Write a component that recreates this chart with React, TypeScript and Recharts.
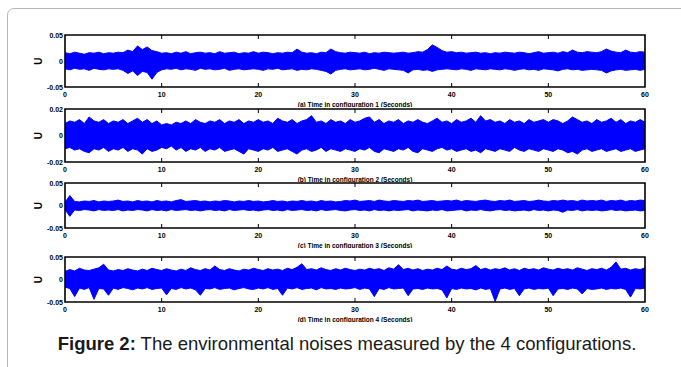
import { ComposedChart, Area, XAxis, YAxis, ReferenceArea } from "recharts";

// sampling grid of the envelope readings (seconds)
const SAMPLE_PERIOD = 0.5;
const X_TICKS = [0, 10, 20, 30, 40, 50, 60];

// configuration 1 envelope (upper / lower), read every 0.5 s
const HI_1 = [
  0.016, 0.014, 0.017, 0.015, 0.013, 0.016, 0.015, 0.017, 0.014, 0.016,
  0.015, 0.017, 0.016, 0.021, 0.018, 0.029, 0.022, 0.027, 0.02, 0.018,
  0.015, 0.016, 0.014, 0.017, 0.015, 0.018, 0.014, 0.016, 0.017, 0.015,
  0.016, 0.014, 0.018, 0.015, 0.016, 0.017, 0.014, 0.016, 0.015, 0.018,
  0.015, 0.017, 0.016, 0.014, 0.016, 0.015, 0.017, 0.016, 0.023, 0.017,
  0.015, 0.016, 0.014, 0.017, 0.016, 0.023, 0.018, 0.016, 0.015, 0.017,
  0.016, 0.015, 0.017, 0.014, 0.016, 0.015, 0.017, 0.016, 0.015, 0.016,
  0.017, 0.015, 0.016, 0.018, 0.017, 0.022, 0.031, 0.026, 0.02, 0.017,
  0.018, 0.016, 0.017, 0.015, 0.016, 0.017, 0.015, 0.016, 0.014, 0.016,
  0.015, 0.017, 0.016, 0.015, 0.017, 0.016, 0.014, 0.016, 0.018, 0.015,
  0.016, 0.017, 0.015, 0.018, 0.016, 0.021, 0.017, 0.016, 0.018, 0.017,
  0.016, 0.018, 0.023, 0.019, 0.017, 0.016, 0.021, 0.017, 0.016, 0.018,
  0.017,
];
const LO_1 = [
  -0.015, -0.017, -0.014, -0.016, -0.015, -0.018, -0.014, -0.016, -0.017, -0.015,
  -0.016, -0.015, -0.018, -0.024, -0.019, -0.028, -0.02, -0.022, -0.035, -0.022,
  -0.017, -0.015, -0.016, -0.014, -0.017, -0.015, -0.016, -0.018, -0.014, -0.016,
  -0.015, -0.017, -0.016, -0.014, -0.018, -0.016, -0.015, -0.017, -0.016, -0.015,
  -0.016, -0.018, -0.015, -0.016, -0.014, -0.017, -0.016, -0.015, -0.018, -0.016,
  -0.017, -0.015, -0.016, -0.018, -0.02, -0.025, -0.018, -0.016, -0.015, -0.017,
  -0.016, -0.015, -0.017, -0.016, -0.014, -0.016, -0.018, -0.015, -0.016, -0.017,
  -0.018, -0.023, -0.017, -0.016, -0.018, -0.017, -0.02, -0.017, -0.016, -0.015,
  -0.016, -0.017, -0.015, -0.016, -0.018, -0.015, -0.016, -0.017, -0.015, -0.016,
  -0.017, -0.015, -0.016, -0.018, -0.016, -0.015, -0.017, -0.016, -0.018, -0.015,
  -0.016, -0.017, -0.019, -0.016, -0.015, -0.017, -0.016, -0.018, -0.017, -0.016,
  -0.017, -0.018, -0.023, -0.019, -0.017, -0.016, -0.018, -0.017, -0.016, -0.018,
  -0.016,
];

// configuration 2
const HI_2 = [
  0.009, 0.011, 0.01, 0.012, 0.009, 0.014, 0.011, 0.01, 0.012, 0.009,
  0.011, 0.01, 0.012, 0.009, 0.011, 0.013, 0.01, 0.012, 0.009, 0.011,
  0.008, 0.009, 0.008, 0.01, 0.009, 0.011, 0.009, 0.012, 0.01, 0.009,
  0.011, 0.01, 0.012, 0.009, 0.011, 0.01, 0.012, 0.009, 0.011, 0.01,
  0.012, 0.01, 0.011, 0.009, 0.013, 0.011, 0.01, 0.012, 0.009, 0.011,
  0.012, 0.015, 0.01, 0.011, 0.009, 0.012, 0.01, 0.011, 0.009, 0.012,
  0.01, 0.011, 0.013, 0.014, 0.01, 0.012, 0.009, 0.011, 0.01, 0.012,
  0.009, 0.011, 0.01, 0.012, 0.01, 0.009, 0.011, 0.013, 0.01, 0.011,
  0.009, 0.012, 0.01, 0.011, 0.013, 0.01, 0.015, 0.011, 0.012, 0.01,
  0.011, 0.009, 0.012, 0.01, 0.011, 0.009, 0.012, 0.01, 0.011, 0.012,
  0.01, 0.012, 0.011, 0.009, 0.011, 0.014, 0.012, 0.01, 0.011, 0.009,
  0.012, 0.01, 0.011, 0.013, 0.01, 0.012, 0.009, 0.011, 0.01, 0.012,
  0.01,
];
const LO_2 = [
  -0.01, -0.009, -0.011, -0.01, -0.012, -0.013, -0.01, -0.011, -0.009, -0.012,
  -0.01, -0.011, -0.009, -0.012, -0.01, -0.011, -0.014, -0.01, -0.012, -0.011,
  -0.009, -0.01, -0.008, -0.011, -0.009, -0.012, -0.01, -0.011, -0.009, -0.012,
  -0.01, -0.011, -0.009, -0.012, -0.011, -0.01, -0.012, -0.014, -0.01, -0.011,
  -0.012, -0.01, -0.011, -0.009, -0.012, -0.011, -0.01, -0.012, -0.014, -0.011,
  -0.01, -0.012, -0.011, -0.009, -0.012, -0.01, -0.011, -0.012, -0.01, -0.011,
  -0.012, -0.01, -0.011, -0.009, -0.012, -0.013, -0.01, -0.011, -0.012, -0.01,
  -0.011, -0.009, -0.012, -0.013, -0.01, -0.011, -0.012, -0.01, -0.009, -0.011,
  -0.01, -0.012, -0.011, -0.01, -0.012, -0.011, -0.013, -0.01, -0.011, -0.012,
  -0.01, -0.011, -0.012, -0.009, -0.011, -0.012, -0.01, -0.011, -0.012, -0.01,
  -0.011, -0.012, -0.01, -0.011, -0.013, -0.012, -0.014, -0.011, -0.01, -0.012,
  -0.011, -0.01, -0.012, -0.011, -0.01, -0.012, -0.011, -0.01, -0.012, -0.011,
  -0.01,
];

// configuration 3
const HI_3 = [
  0.007, 0.022, 0.009, 0.008, 0.01, 0.009, 0.011, 0.008, 0.01, 0.009,
  0.01, 0.012, 0.009, 0.01, 0.008, 0.011, 0.009, 0.01, 0.008, 0.011,
  0.009, 0.01, 0.008, 0.011, 0.013, 0.009, 0.01, 0.011, 0.009, 0.01,
  0.008, 0.01, 0.009, 0.011, 0.01, 0.008, 0.01, 0.009, 0.011, 0.009,
  0.01, 0.008, 0.009, 0.011, 0.009, 0.01, 0.008, 0.01, 0.009, 0.011,
  0.009, 0.01, 0.008, 0.011, 0.009, 0.01, 0.008, 0.009, 0.011, 0.01,
  0.012, 0.009, 0.01, 0.011, 0.009, 0.012, 0.01, 0.009, 0.011, 0.01,
  0.009, 0.011, 0.01, 0.012, 0.009, 0.01, 0.011, 0.009, 0.01, 0.011,
  0.01, 0.012, 0.009, 0.011, 0.01, 0.009, 0.011, 0.012, 0.01, 0.009,
  0.011, 0.01, 0.012, 0.009, 0.01, 0.011, 0.009, 0.01, 0.012, 0.01,
  0.009, 0.011, 0.01, 0.012, 0.01, 0.011, 0.009, 0.012, 0.01, 0.011,
  0.01, 0.012, 0.009, 0.011, 0.01, 0.012, 0.009, 0.011, 0.01, 0.012,
  0.011,
];
const LO_3 = [
  -0.009, -0.024, -0.01, -0.011, -0.009, -0.01, -0.012, -0.009, -0.011, -0.01,
  -0.011, -0.009, -0.012, -0.01, -0.011, -0.009, -0.01, -0.012, -0.009, -0.011,
  -0.01, -0.012, -0.009, -0.011, -0.01, -0.009, -0.011, -0.01, -0.012, -0.01,
  -0.009, -0.011, -0.01, -0.012, -0.009, -0.011, -0.01, -0.009, -0.011, -0.01,
  -0.012, -0.01, -0.009, -0.011, -0.01, -0.012, -0.009, -0.011, -0.01, -0.009,
  -0.011, -0.01, -0.012, -0.009, -0.011, -0.01, -0.009, -0.011, -0.012, -0.01,
  -0.009, -0.011, -0.01, -0.012, -0.009, -0.011, -0.01, -0.012, -0.01, -0.011,
  -0.01, -0.009, -0.012, -0.01, -0.011, -0.012, -0.01, -0.011, -0.009, -0.012,
  -0.011, -0.01, -0.009, -0.012, -0.01, -0.011, -0.009, -0.011, -0.012, -0.01,
  -0.009, -0.011, -0.01, -0.012, -0.011, -0.01, -0.012, -0.009, -0.011, -0.01,
  -0.012, -0.01, -0.011, -0.015, -0.01, -0.011, -0.009, -0.012, -0.01, -0.011,
  -0.01, -0.012, -0.011, -0.009, -0.011, -0.01, -0.012, -0.011, -0.01, -0.012,
  -0.011,
];

// configuration 4
const HI_4 = [
  0.018, 0.022, 0.019, 0.025, 0.021, 0.02, 0.023, 0.026, 0.034, 0.021,
  0.019, 0.022, 0.02, 0.024, 0.021, 0.019, 0.023, 0.02, 0.025, 0.022,
  0.02, 0.024, 0.021, 0.019, 0.023, 0.02, 0.026, 0.022, 0.02, 0.024,
  0.021, 0.03, 0.022, 0.02, 0.024, 0.021, 0.019, 0.023, 0.021, 0.025,
  0.022, 0.02, 0.024, 0.021, 0.023, 0.02, 0.025, 0.022, 0.027, 0.035,
  0.022, 0.024, 0.021, 0.026, 0.022, 0.02, 0.024, 0.021, 0.025, 0.022,
  0.02, 0.023, 0.021, 0.025, 0.022, 0.024, 0.02, 0.026, 0.023, 0.033,
  0.022, 0.025, 0.021, 0.024, 0.02, 0.023, 0.021, 0.025, 0.022, 0.03,
  0.023, 0.021, 0.025, 0.022, 0.024, 0.031, 0.022, 0.025, 0.021, 0.024,
  0.022, 0.026, 0.021, 0.024, 0.02, 0.025, 0.022, 0.024, 0.021, 0.026,
  0.023, 0.021, 0.025, 0.022, 0.024, 0.021, 0.026, 0.023, 0.02, 0.024,
  0.022, 0.025, 0.021, 0.027, 0.039, 0.023, 0.025, 0.021, 0.024, 0.022,
  0.026,
];
const LO_4 = [
  -0.017, -0.02, -0.038, -0.019, -0.022, -0.018, -0.044, -0.02, -0.021, -0.035,
  -0.019, -0.022, -0.018, -0.02, -0.023, -0.019, -0.021, -0.018, -0.022, -0.02,
  -0.019, -0.034, -0.02, -0.022, -0.018, -0.021, -0.019, -0.023, -0.035, -0.02,
  -0.021, -0.018, -0.022, -0.02, -0.019, -0.023, -0.02, -0.018, -0.021, -0.022,
  -0.019, -0.021, -0.018, -0.022, -0.02, -0.035, -0.019, -0.021, -0.018, -0.022,
  -0.02, -0.019, -0.023, -0.018, -0.021, -0.02, -0.022, -0.019, -0.021, -0.02,
  -0.018, -0.022, -0.019, -0.021, -0.038, -0.02, -0.022, -0.018, -0.021, -0.02,
  -0.019, -0.036, -0.021, -0.02, -0.022, -0.019, -0.021, -0.02, -0.023, -0.041,
  -0.02, -0.022, -0.019, -0.021, -0.02, -0.023, -0.019, -0.022, -0.02, -0.049,
  -0.021, -0.019, -0.022, -0.02, -0.036, -0.021, -0.019, -0.022, -0.02, -0.021,
  -0.019, -0.036, -0.021, -0.02, -0.022, -0.019, -0.021, -0.032, -0.02, -0.022,
  -0.021, -0.019, -0.022, -0.02, -0.021, -0.019, -0.022, -0.039, -0.02, -0.021,
  -0.019,
];

const Y_LIMITS = [0.05, 0.02, 0.05, 0.05];
const X_LABELS = [
  "(a) Time in configuration 1 (Seconds)",
  "(b) Time in configuration 2 (Seconds)",
  "(c) Time in configuration 3 (Seconds)",
  "(d) Time in configuration 4 (Seconds)",
];
const Y_LABEL = "U";
const CAPTION_BOLD = "Figure 2:";
const CAPTION_TEXT = " The environmental noises measured by the 4 configurations.";

const FONT = "Arial, 'Liberation Sans', Helvetica, sans-serif";
const BLUE = "#0000ff";

// plot boxes on the page (top / bottom edge in px)
const PANEL_BOXES = [
  { top: 35, bottom: 87 },
  { top: 109, bottom: 162 },
  { top: 183, bottom: 228 },
  { top: 257, bottom: 302 },
];

const SERIES = [
  [HI_1, LO_1],
  [HI_2, LO_2],
  [HI_3, LO_3],
  [HI_4, LO_4],
];

const MARGIN_TOP = 6;
const X_AXIS_H = 20;

function buildRows(hi: number[], lo: number[]) {
  return hi.map((h, i) => ({ t: i * SAMPLE_PERIOD, range: [lo[i], h] }));
}

function Panel({ index }: { index: number }) {
  const box = PANEL_BOXES[index];
  const plotH = box.bottom - box.top;
  const lim = Y_LIMITS[index];
  const [hi, lo] = SERIES[index];
  const rows = buildRows(hi, lo);
  const height = MARGIN_TOP + plotH + X_AXIS_H;

  const xTick = (props: any) => {
    const { x, y, payload } = props;
    const v = payload.value;
    const inner = v > 0 && v < 60;
    return (
      <g>
        {inner && <line x1={x} x2={x} y1={y} y2={y - 4} stroke="#000" strokeWidth={1} />}
        {inner && <line x1={x} x2={x} y1={y - plotH} y2={y - plotH + 4} stroke="#000" strokeWidth={1} />}
        <text x={x} y={y + 9.5} textAnchor="middle" fontSize={7} fontWeight="bold" fontFamily={FONT} fill="#000">
          {v}
        </text>
      </g>
    );
  };

  const yTick = (props: any) => {
    const { x, y, payload } = props;
    return (
      <text x={x} y={y + 2.5} textAnchor="end" fontSize={7} fontWeight="bold" fontFamily={FONT} fill="#000">
        {payload.value === 0 ? "0" : String(payload.value)}
      </text>
    );
  };

  return (
    <div style={{ position: "absolute", left: 0, top: box.top - MARGIN_TOP }}>
      <ComposedChart
        width={681}
        height={height}
        data={rows}
        margin={{ top: MARGIN_TOP, right: 36, bottom: 0, left: 0 }}
      >
        <XAxis
          dataKey="t"
          type="number"
          domain={[0, 60]}
          ticks={X_TICKS}
          interval={0}
          axisLine={false}
          tickLine={false}
          tickSize={0}
          tickMargin={0}
          height={X_AXIS_H}
          tick={xTick}
          label={{
            value: X_LABELS[index],
            position: "insideBottom",
            offset: 0,
            fontSize: 6.5,
            fontWeight: "bold",
            fontFamily: FONT,
            fill: "#000",
          }}
        />
        <YAxis
          type="number"
          domain={[-lim, lim]}
          ticks={[-lim, 0, lim]}
          interval={0}
          width={65}
          axisLine={false}
          tickLine={false}
          tickSize={0}
          tickMargin={2}
          tick={yTick}
          label={{
            value: Y_LABEL,
            angle: -90,
            position: "center",
            dx: 6,
            fontSize: 10,
            fontWeight: "bold",
            fontFamily: FONT,
            fill: "#000",
          }}
        />
        <Area
          type="linear"
          dataKey="range"
          stroke={BLUE}
          strokeWidth={1}
          fill={BLUE}
          fillOpacity={1}
          dot={false}
          activeDot={false}
          isAnimationActive={false}
        />
        <ReferenceArea
          x1={0}
          x2={60}
          y1={-lim}
          y2={lim}
          fill="none"
          stroke="#000"
          strokeWidth={1.6}
          ifOverflow="visible"
        />
      </ComposedChart>
    </div>
  );
}

export default function App() {
  return (
    <div
      style={{
        position: "absolute",
        left: 0,
        top: 0,
        width: 681,
        height: 367,
        overflow: "hidden",
        background: "#fff",
        fontFamily: FONT,
      }}
    >
      <div
        style={{
          position: "absolute",
          left: 7,
          top: 8,
          width: 720,
          height: 420,
          border: "1px solid #b4b8b8",
          borderRadius: 7,
        }}
      />
      {PANEL_BOXES.map((_, i) => (
        <Panel key={i} index={i} />
      ))}
      <div
        style={{
          position: "absolute",
          left: 0,
          top: 333,
          width: 694,
          textAlign: "center",
          fontSize: 18.5,
          color: "#1a1a1a",
          whiteSpace: "nowrap",
        }}
      >
        <b>{CAPTION_BOLD}</b>
        {CAPTION_TEXT}
      </div>
    </div>
  );
}
